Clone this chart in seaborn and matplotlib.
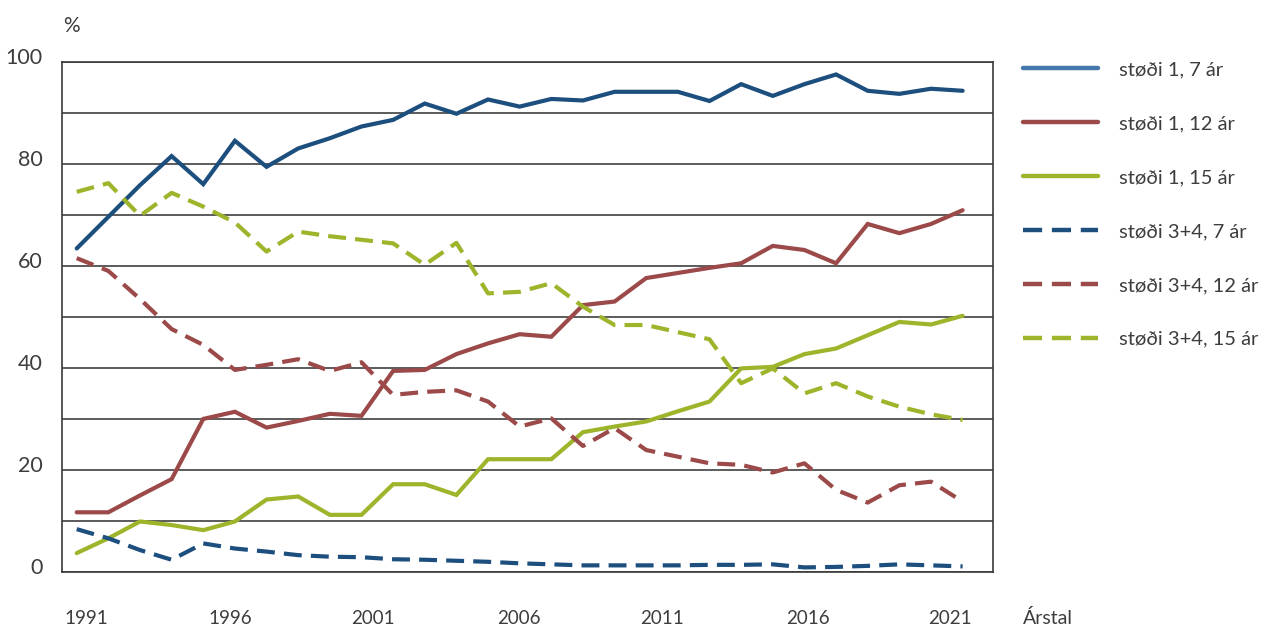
import matplotlib
matplotlib.use("Agg")
import matplotlib.pyplot as plt
import matplotlib.transforms as mtransforms
from matplotlib.lines import Line2D
import numpy as np
import pandas as pd
import seaborn as sns

blue_solid = [63.4, 69.6, 75.8, 81.5, 76.0, 84.5, 79.4, 83.0, 85.0, 87.3, 88.6, 91.8, 89.8, 92.6, 91.2,
              92.7, 92.4, 94.1, 94.1, 94.1, 92.3, 95.6, 93.3, 95.6, 97.5, 94.3, 93.7, 94.7, 94.3]
red_solid = [11.7, 11.7, 15.0, 18.2, 30.0, 31.4, 28.3, 29.6, 31.0, 30.6, 39.4, 39.6, 42.7, 44.8, 46.6,
             46.1, 52.3, 53.0, 57.6, 58.6, 59.6, 60.5, 63.9, 63.1, 60.5, 68.2, 66.4, 68.2, 70.9]
green_solid = [3.7, 6.6, 9.9, 9.2, 8.2, 9.9, 14.2, 14.8, 11.2, 11.2, 17.2, 17.2, 15.1, 22.1, 22.1,
               22.1, 27.4, 28.5, 29.5, 31.5, 33.4, 39.9, 40.2, 42.7, 43.8, 46.4, 49.0, 48.5, 50.2]
blue_dashed = [8.4, 6.6, 4.3, 2.4, 5.6, 4.6, 4.0, 3.3, 3.0, 2.9, 2.5, 2.4, 2.2, 2.0, 1.7,
               1.5, 1.3, 1.3, 1.3, 1.3, 1.4, 1.4, 1.5, 0.9, 1.0, 1.2, 1.5, 1.3, 1.1]
red_dashed = [61.5, 59.0, 53.5, 47.6, 44.5, 39.6, 40.6, 41.7, 39.4, 41.1, 34.7, 35.3, 35.6, 33.4, 28.5,
              30.1, 24.7, 28.2, 23.9, 22.6, 21.3, 21.0, 19.5, 21.3, 16.1, 13.6, 17.0, 17.7, 13.8]
green_dashed = [74.5, 76.2, 69.8, 74.3, 71.6, 68.5, 62.8, 66.7, 65.8, 65.1, 64.4, 60.2, 64.5, 54.6, 54.9,
                56.6, 52.0, 48.4, 48.4, 47.0, 45.6, 37.0, 39.9, 35.0, 37.0, 34.4, 32.4, 30.9, 29.8]

labels = ["støði 1, 7 ár", "støði 1, 12 ár", "støði 1, 15 ár",
          "støði 3+4, 7 ár", "støði 3+4, 12 ár", "støði 3+4, 15 ár"]
series = [blue_solid, red_solid, green_solid, blue_dashed, red_dashed, green_dashed]
year_labels = ["1991", "1996", "2001", "2006", "2011", "2016", "2021"]

BLUE = "#1c4e7e"
RED = "#9b4a49"
GREEN = "#9cb52a"
TEXT = "#3d3d3d"
colors = [BLUE, RED, GREEN, BLUE, RED, GREEN]
dash = (0, (4.3, 2.2))
styles = ["-", "-", "-", dash, dash, dash]

sns.set_style("white")
plt.rcParams["font.family"] = ["Lato", "DejaVu Sans"]

fig = plt.figure(figsize=(12.84, 6.26), dpi=100)
ax = fig.add_axes([62 / 1284, 54 / 626, 931 / 1284, 510.3 / 626])

idx = np.arange(len(blue_solid))
for vals, col, ls in zip(series, colors, styles):
    sns.lineplot(x=idx, y=vals, ax=ax, color=col, linewidth=3, linestyle=ls,
                 solid_joinstyle="miter", dash_capstyle="butt")

ax.set_xlim(-0.465, 28.96)
ax.set_ylim(0, 100)

# y axis
ax.set_yticks(np.arange(0, 101, 20))
ax.set_yticks(np.arange(0, 101, 10), minor=True)
ax.grid(axis="y", which="both", color="#3f3f3f", linewidth=1.2)
ax.set_axisbelow(True)
ax.tick_params(axis="y", which="both", length=0, pad=14)
ax.set_yticklabels([str(v) for v in range(0, 101, 20)], fontsize=15.5, color=TEXT)
shift = mtransforms.ScaledTranslation(0, 6 / 100, fig.dpi_scale_trans)
for lab in ax.get_yticklabels():
    lab.set_transform(lab.get_transform() + shift)

# x axis (labels sit slightly off the points in the original)
ax.set_xticks([0.29, 4.85, 9.36, 13.98, 18.49, 23.1, 27.59])
ax.set_xticklabels(year_labels, fontsize=13.5, color=TEXT)
ax.tick_params(axis="x", length=0, pad=27)
ax.set_xlabel("")
ax.set_ylabel("")

for sp in ax.spines.values():
    sp.set_visible(True)
    sp.set_color("#3a3a3a")
    sp.set_linewidth(1.2)

fig.text(63 / 1284, (626 - 32) / 626, "%", fontsize=15, color=TEXT)
fig.text(1023 / 1284, (626 - 624) / 626, "Árstal", fontsize=14, color=TEXT, va="baseline")

handles = []
for i, (col, ls) in enumerate(zip(colors, styles)):
    c = "#4677ad" if i == 0 else col
    handles.append(Line2D([0], [0], color=c, linewidth=3.2, linestyle=ls, dash_capstyle="butt"))
leg = fig.legend(handles, labels, loc="upper left", bbox_to_anchor=(1023 / 1284, 1 - 61 / 626),
                 frameon=False, fontsize=14.5, handlelength=3.7, handletextpad=1.05,
                 labelspacing=1.83, borderaxespad=0, borderpad=0)
for t in leg.get_texts():
    t.set_color(TEXT)

fig.savefig("out.png", dpi=100)
